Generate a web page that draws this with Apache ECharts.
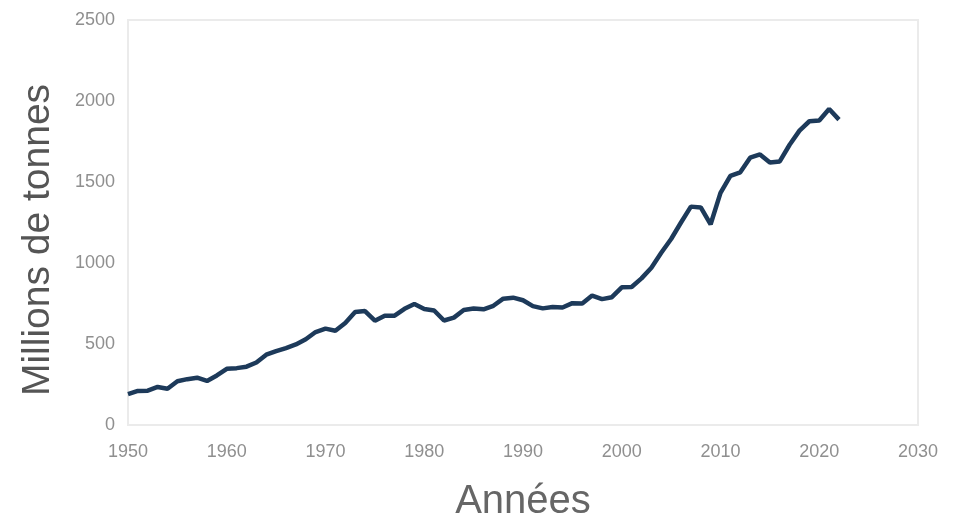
<!DOCTYPE html>
<html>
<head>
<meta charset="utf-8">
<script src="https://cdn.jsdelivr.net/npm/echarts@6/dist/echarts.min.js"></script>
<style>html,body{margin:0;padding:0;background:#fff;width:100%;height:100%;overflow:hidden}#c{width:954px;height:521px}</style>
</head>
<body>
<div id="c"></div>
<script>
const years = [1950,1951,1952,1953,1954,1955,1956,1957,1958,1959,1960,1961,1962,1963,1964,1965,1966,1967,1968,1969,1970,1971,1972,1973,1974,1975,1976,1977,1978,1979,1980,1981,1982,1983,1984,1985,1986,1987,1988,1989,1990,1991,1992,1993,1994,1995,1996,1997,1998,1999,2000,2001,2002,2003,2004,2005,2006,2007,2008,2009,2010,2011,2012,2013,2014,2015,2016,2017,2018,2019,2020,2021,2022];
const production = [190,210,212,235,224,270,283,292,272,306,347,351,360,386,434,456,475,497,529,574,595,582,630,697,703,644,675,675,717,747,716,707,645,663,710,719,714,736,780,786,770,734,720,728,725,752,750,799,777,789,850,852,905,971,1063,1148,1250,1348,1343,1239,1433,1538,1560,1650,1670,1620,1627,1730,1817,1875,1880,1951,1885];
const xTicks = [1950,1960,1970,1980,1990,2000,2010,2020,2030];
const yTicks = [0,500,1000,1500,2000,2500];
const xName = 'Années';
const yName = 'Millions de tonnes';

const chart = echarts.init(document.getElementById('c'));
chart.setOption({
  animation: false,
  grid: {left: 128, right: 36, top: 20, bottom: 96, outerBoundsMode: 'none', containLabel: false, show: true, borderColor: '#ebebeb', borderWidth: 2},
  graphic: [{
    type: 'text', x: 38, y: 240, rotation: Math.PI / 2,
    style: {text: yName, fontSize: 39, fill: '#555', fontFamily: 'Liberation Sans', align: 'center', verticalAlign: 'middle'}
  }],
  xAxis: {
    type: 'value', min: xTicks[0], max: xTicks[xTicks.length - 1], interval: 10,
    name: xName, nameLocation: 'middle', nameGap: 57,
    nameTextStyle: {fontSize: 40, color: '#666', fontFamily: 'Liberation Sans'},
    axisLine: {show: false}, axisTick: {show: false}, splitLine: {show: false},
    axisLabel: {color: '#8f8f8f', fontSize: 18, margin: 18, fontFamily: 'Liberation Sans', formatter: v => String(v)}
  },
  yAxis: {
    type: 'value', min: yTicks[0], max: yTicks[yTicks.length - 1], interval: 500,
    axisLine: {show: false}, axisTick: {show: false}, splitLine: {show: false},
    axisLabel: {color: '#8f8f8f', fontSize: 18, margin: 13, fontFamily: 'Liberation Sans', formatter: v => String(v)}
  },
  series: [{
    type: 'line',
    data: years.map((y, i) => [y, production[i]]),
    showSymbol: false,
    lineStyle: {color: '#1d3a5a', width: 4.5},
    itemStyle: {color: '#1d3a5a'}
  }]
});
</script>
</body>
</html>
